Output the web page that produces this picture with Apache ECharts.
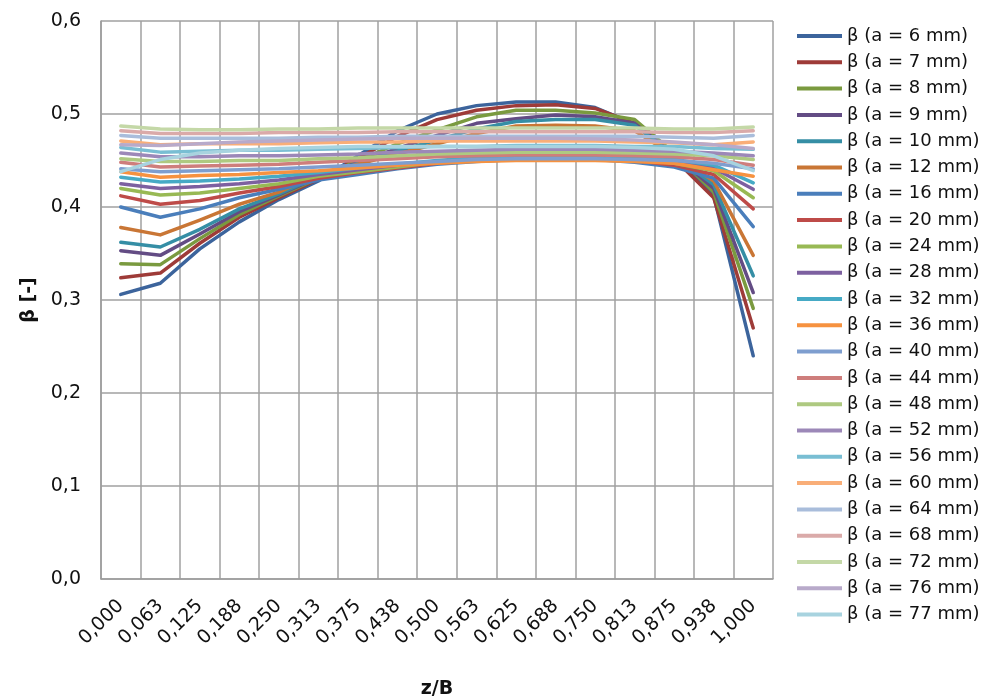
<!DOCTYPE html>
<html>
<head>
<meta charset="utf-8">
<style>
html,body{margin:0;padding:0;background:#fff;}
#chart{width:982px;height:699px;}
</style>
<script src="https://cdn.jsdelivr.net/npm/echarts@6/dist/echarts.min.js"></script>
</head>
<body>
<div id="chart"></div>
<script>
// x categories (z/B)
const categories = ['0,000','0,063','0,125','0,188','0,250','0,313','0,375','0,438','0,500','0,563','0,625','0,688','0,750','0,813','0,875','0,938','1,000'];

// y tick values
const yTicks = [0.0, 0.1, 0.2, 0.3, 0.4, 0.5, 0.6];

// series names (a in mm)
const gapSizes = [6, 7, 8, 9, 10, 12, 16, 20, 24, 28, 32, 36, 40, 44, 48, 52, 56, 60, 64, 68, 72, 76, 77];

// values
const a6  = [0.306,0.318,0.355,0.384,0.408,0.428,0.455,0.482,0.500,0.509,0.513,0.513,0.507,0.489,0.455,0.412,0.240];
const a7  = [0.324,0.329,0.361,0.389,0.410,0.430,0.452,0.476,0.494,0.504,0.509,0.510,0.506,0.490,0.452,0.410,0.270];
const a8  = [0.339,0.338,0.366,0.392,0.412,0.431,0.450,0.468,0.483,0.497,0.504,0.504,0.501,0.494,0.458,0.416,0.291];
const a9  = [0.353,0.348,0.371,0.395,0.413,0.432,0.448,0.463,0.477,0.490,0.495,0.499,0.497,0.490,0.456,0.420,0.308];
const a10 = [0.362,0.357,0.376,0.398,0.414,0.433,0.447,0.460,0.472,0.484,0.492,0.494,0.494,0.488,0.455,0.424,0.326];
const a12 = [0.378,0.370,0.386,0.403,0.416,0.435,0.446,0.457,0.468,0.479,0.487,0.488,0.487,0.482,0.455,0.428,0.348];
const a16 = [0.400,0.389,0.398,0.410,0.419,0.429,0.435,0.441,0.446,0.449,0.451,0.451,0.451,0.448,0.443,0.431,0.379];
const a20 = [0.412,0.403,0.407,0.415,0.422,0.431,0.437,0.442,0.447,0.450,0.452,0.452,0.452,0.450,0.445,0.435,0.398];
const a24 = [0.420,0.413,0.415,0.420,0.425,0.433,0.438,0.443,0.448,0.451,0.453,0.453,0.453,0.451,0.447,0.439,0.410];
const a28 = [0.425,0.420,0.422,0.425,0.429,0.435,0.440,0.445,0.449,0.452,0.454,0.454,0.454,0.452,0.449,0.442,0.419];
const a32 = [0.432,0.427,0.428,0.430,0.433,0.437,0.442,0.446,0.450,0.453,0.455,0.455,0.455,0.453,0.451,0.445,0.426];
const a36 = [0.438,0.432,0.434,0.435,0.437,0.439,0.442,0.445,0.447,0.449,0.450,0.450,0.450,0.449,0.447,0.440,0.433];
const a40 = [0.441,0.438,0.439,0.440,0.441,0.443,0.445,0.447,0.449,0.451,0.452,0.452,0.452,0.451,0.450,0.447,0.441];
const a44 = [0.448,0.443,0.444,0.445,0.446,0.448,0.450,0.452,0.454,0.455,0.456,0.456,0.456,0.455,0.454,0.451,0.445];
const a48 = [0.452,0.449,0.449,0.450,0.450,0.452,0.453,0.455,0.457,0.458,0.459,0.459,0.459,0.458,0.457,0.455,0.451];
const a52 = [0.458,0.454,0.454,0.455,0.455,0.456,0.457,0.459,0.460,0.461,0.462,0.462,0.462,0.461,0.460,0.458,0.455];
const a56 = [0.464,0.459,0.460,0.461,0.461,0.462,0.463,0.464,0.465,0.465,0.466,0.466,0.466,0.465,0.465,0.463,0.462];
const a60 = [0.471,0.467,0.468,0.468,0.468,0.469,0.470,0.470,0.471,0.471,0.471,0.471,0.471,0.470,0.469,0.467,0.470];
const a64 = [0.477,0.474,0.474,0.474,0.474,0.475,0.475,0.476,0.476,0.476,0.476,0.476,0.476,0.476,0.475,0.474,0.477];
const a68 = [0.482,0.479,0.479,0.479,0.480,0.480,0.480,0.481,0.481,0.481,0.481,0.481,0.481,0.481,0.480,0.480,0.482];
const a72 = [0.487,0.484,0.483,0.483,0.484,0.484,0.485,0.485,0.485,0.485,0.485,0.485,0.485,0.485,0.484,0.484,0.486];
const a76 = [0.467,0.466,0.468,0.470,0.471,0.472,0.473,0.474,0.474,0.474,0.474,0.474,0.473,0.472,0.470,0.467,0.463];
const a77 = [0.438,0.451,0.458,0.461,0.463,0.464,0.465,0.465,0.465,0.465,0.465,0.465,0.465,0.464,0.462,0.455,0.439];

const seriesValues = [a6,a7,a8,a9,a10,a12,a16,a20,a24,a28,a32,a36,a40,a44,a48,a52,a56,a60,a64,a68,a72,a76,a77];

// styling
const palette = ['#3c649c','#9e3b38','#7a9a3f','#634c84','#358ea5','#c97635',
                 '#4a7ebb','#be4b48','#98b954','#7d60a0','#46aac5','#f69240',
                 '#7e9ecf','#ce7e7c','#aec981','#9c88b8','#79bed3','#f9ae78',
                 '#a9bddb','#daaaa9','#c4d8a7','#b8aaca','#a8d3df'];

const FONT = 'DejaVu Sans';
const names = gapSizes.map(a => 'β (a = ' + a + ' mm)');

const series = seriesValues.map((vals, i) => ({
  name: names[i],
  type: 'line',
  data: vals,
  symbol: 'none',
  showSymbol: false,
  smooth: false,
  color: palette[i],
  lineStyle: { width: 3.5, color: palette[i], cap: 'round', join: 'round' },
  emphasis: { disabled: true }
}));

const chart = echarts.init(document.getElementById('chart'), null, { renderer: 'canvas' });
chart.setOption({
  animation: false,
  backgroundColor: '#ffffff',
  grid: { left: 101, right: 209, top: 21, bottom: 120, containLabel: false, outerBoundsMode: 'none' },
  legend: {
    orient: 'vertical',
    left: 792,
    top: 21,
    icon: 'rect',
    itemWidth: 45,
    itemHeight: 4,
    itemGap: 6.3,
    data: names,
    textStyle: { fontFamily: FONT, fontSize: 18, color: '#111', lineHeight: 20 }
  },
  xAxis: {
    type: 'category',
    data: categories,
    boundaryGap: true,
    name: 'z/B',
    nameLocation: 'middle',
    nameGap: 101,
    nameMoveOverlap: false,
    nameTextStyle: { fontFamily: FONT, fontSize: 19, fontWeight: 'bold', color: '#111' },
    axisLine: { lineStyle: { color: '#9c9c9c', width: 1.5 } },
    axisTick: { show: false },
    axisLabel: { rotate: 45, fontFamily: FONT, fontSize: 19, color: '#111', margin: 24, interval: 0 },
    splitLine: { show: true, interval: 0, lineStyle: { color: '#a0a0a0', width: 1.5 } }
  },
  yAxis: {
    type: 'value',
    min: yTicks[0],
    max: yTicks[yTicks.length - 1],
    interval: 0.1,
    name: 'β [-]',
    nameLocation: 'middle',
    nameGap: 62,
    nameRotate: 90,
    nameMoveOverlap: false,
    nameTextStyle: { fontFamily: FONT, fontSize: 19, fontWeight: 'bold', color: '#111' },
    axisLine: { show: true, lineStyle: { color: '#9c9c9c', width: 1.5 } },
    axisTick: { show: false },
    axisLabel: {
      fontFamily: FONT, fontSize: 19, color: '#111', margin: 20,
      formatter: v => v.toFixed(1).replace('.', ',')
    },
    splitLine: { show: true, lineStyle: { color: '#a0a0a0', width: 1.5 } }
  },
  series: series
});
</script>
</body>
</html>
